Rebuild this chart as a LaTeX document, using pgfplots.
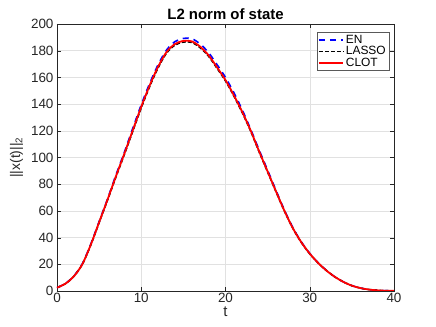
\documentclass[border=0pt]{standalone}
\usepackage{fontspec}
\setmainfont{Liberation Sans}
\usepackage{pgfplots}
\pgfplotsset{compat=1.18}
\usetikzlibrary{calc}

\definecolor{axgray}{RGB}{38,38,38}
\definecolor{gridgray}{RGB}{225,225,225}

\pgfplotstableread{
t clot
0 2.5
1 5.5
2 11
3 20
4 34.5
5 51.5
6 68.5
7 86
8 103
9 120.5
10 138
11 154
12 168
13 179
14 185
15 187.3
16 187
17 183
18 176.5
19 167.5
20 158
21 146.5
22 134
23 120
24 104.5
25 89.5
26 74.5
27 60
28 47
29 36.5
30 28
31 21
32 15.2
33 10.5
34 6.8
35 4
36 2.2
37 1.1
38 0.5
39 0.2
40 0.1
}\clot

\pgfplotstableread{
t en
0 2.5
1 5.6
2 11.2
3 20.3
4 35
5 52
6 69
7 87
8 104
9 122
10 139.5
11 155.5
12 169.5
13 180.5
14 186.8
15 189.2
16 189
17 185
18 178.5
19 169.5
20 160
21 148.5
22 135.5
23 121
24 105.5
25 90.5
26 75.3
27 60.5
28 47.4
29 36.8
30 28.2
31 21.1
32 15.3
33 10.5
34 6.8
35 4
36 2.2
37 1.1
38 0.5
39 0.2
40 0.1
}\en

\pgfplotstableread{
t lasso
0 2.5
1 5.5
2 11
3 19.9
4 34.3
5 51.2
6 68.1
7 85.5
8 102.4
9 119.8
10 137.2
11 153.2
12 167.2
13 178.2
14 184.2
15 186.5
16 186.2
17 182.2
18 175.8
19 166.8
20 157.4
21 146
22 133.5
23 119.6
24 104.1
25 89.2
26 74.3
27 59.8
28 46.9
29 36.4
30 27.9
31 21
32 15.2
33 10.5
34 6.8
35 4
36 2.2
37 1.1
38 0.5
39 0.2
40 0.1
}\lasso

\begin{document}
\begin{tikzpicture}
\begin{axis}[name=ax,
  scale only axis, width=337bp, height=267bp,
  xmin=0, xmax=40, ymin=0, ymax=200,
  xtick={0,10,...,40}, ytick={0,20,...,200},
  tick align=inside, major tick length=4bp,
  axis line style={axgray, line width=0.5pt},
  tick style={axgray},
  grid=major, grid style={gridgray, line width=0.5pt},
  ticklabel style={font=\fontsize{13.5}{14}\selectfont, text=axgray},
  xticklabel style={yshift=1bp},
  /pgf/number format/assume math mode=true,
  title={\textbf{L2 norm of state}},
  title style={font=\fontsize{15}{16}\selectfont, yshift=-5bp},
  xlabel={t}, ylabel={||x(t)||\textsubscript{2}},
  label style={font=\fontsize{15}{16}\selectfont, text=axgray},
  xlabel style={yshift=3bp},
  ylabel style={font=\fontsize{14}{15}\selectfont, yshift=1bp},
  legend style={at={(0.985,0.97)}, anchor=north east, draw=gray!70!black,
    font=\fontsize{12}{12}\selectfont, inner sep=1pt, row sep=-2.5pt,
    /tikz/every even column/.append style={column sep=1pt}},
  legend cell align=left,
  legend image code/.code={\draw[#1] (0cm,0cm) -- (0.85cm,0cm);},
]
\addplot[blue, line width=1.6pt, dash pattern=on 6bp off 5bp, smooth] table[x=t,y=en] {\en};
\addplot[black, line width=1.6pt, dash pattern=on 4bp off 2bp, smooth] table[x=t,y=lasso] {\lasso};
\addplot[red, line width=1.8pt, smooth] table[x=t,y=clot] {\clot};
\legend{EN, LASSO, CLOT}
\end{axis}
\path[use as bounding box] ($(ax.south west)+(-57bp,-36bp)$) rectangle ($(ax.south west)+(379bp,291bp)$);
\end{tikzpicture}
\end{document}
